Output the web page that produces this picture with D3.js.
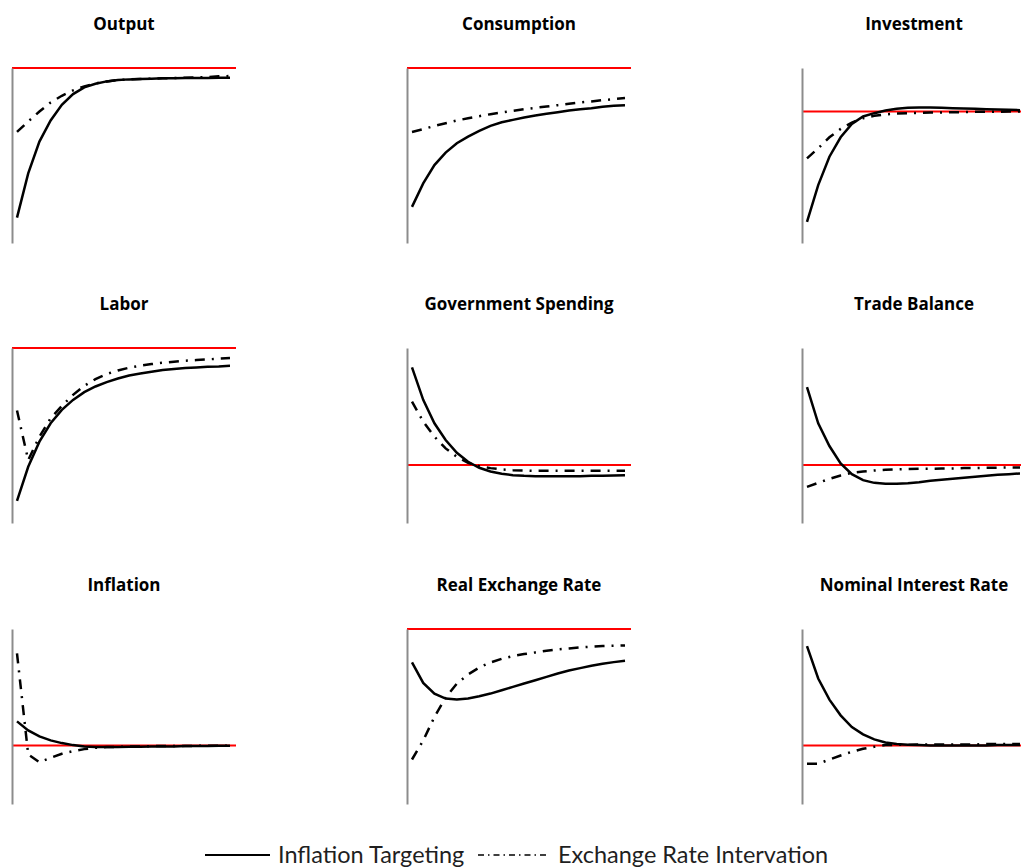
<!DOCTYPE html>
<html>
<head>
<meta charset="utf-8">
<script src="https://cdn.jsdelivr.net/npm/d3@7"></script>
<style>
  body { margin: 0; background: #fff; }
  .title { font-family: "Open Sans", Lato, sans-serif; font-weight: bold; font-size: 17px; fill: #000; }
  .legend { font-family: Lato, "Open Sans", sans-serif; font-size: 23.5px; fill: #1f1f1f; }
</style>
</head>
<body>
<div id="chart"></div>
<script>
var svgWidth = 1021;
var svgHeight = 868;

// periods on the horizontal axis
var periods = d3.range(1, 21);

var titles = ["Output", "Consumption", "Investment",
              "Labor", "Government Spending", "Trade Balance",
              "Inflation", "Real Exchange Rate", "Nominal Interest Rate"];

// vertical extent of each panel [min, max]
var yRanges = [
    [-5.23, 0], [-5.23, 0], [-3.93, 1.30],
    [-5.23, 0], [-1.73, 3.50], [-1.73, 3.50],
    [-1.75, 3.48], [-5.23, 0], [-1.75, 3.48]
];

// Inflation Targeting (solid)
var outputIT = [-4.47, -3.15, -2.20, -1.57, -1.10, -0.78, -0.58, -0.47, -0.40, -0.36, -0.34, -0.33, -0.32, -0.31, -0.31, -0.30, -0.30, -0.30, -0.29, -0.29];
var consIT = [-4.15, -3.45, -2.90, -2.53, -2.25, -2.05, -1.88, -1.73, -1.62, -1.55, -1.48, -1.42, -1.37, -1.32, -1.27, -1.23, -1.20, -1.16, -1.13, -1.11];
var invIT = [-3.30, -2.20, -1.35, -0.77, -0.37, -0.15, -0.05, 0.03, 0.08, 0.11, 0.12, 0.12, 0.11, 0.10, 0.09, 0.08, 0.07, 0.06, 0.05, 0.04];
var laborIT = [-4.57, -3.55, -2.80, -2.25, -1.85, -1.55, -1.32, -1.15, -1.02, -0.91, -0.82, -0.76, -0.71, -0.66, -0.63, -0.60, -0.58, -0.56, -0.55, -0.53];
var govIT = [2.92, 1.95, 1.25, 0.75, 0.37, 0.10, -0.08, -0.19, -0.26, -0.30, -0.32, -0.33, -0.33, -0.33, -0.33, -0.33, -0.32, -0.32, -0.31, -0.30];
var tradeIT = [2.33, 1.25, 0.57, 0.05, -0.27, -0.45, -0.53, -0.56, -0.56, -0.54, -0.51, -0.47, -0.44, -0.41, -0.38, -0.35, -0.32, -0.29, -0.27, -0.25];
var inflIT = [0.72, 0.45, 0.27, 0.15, 0.07, 0.01, -0.03, -0.05, -0.05, -0.05, -0.04, -0.04, -0.03, -0.03, -0.03, -0.02, -0.02, -0.02, -0.01, -0.01];
var rerIT = [-1.00, -1.61, -1.93, -2.08, -2.11, -2.08, -2.01, -1.93, -1.83, -1.73, -1.63, -1.53, -1.43, -1.33, -1.24, -1.17, -1.10, -1.04, -0.99, -0.95];
var rateIT = [2.97, 2.00, 1.37, 0.90, 0.55, 0.33, 0.18, 0.09, 0.04, 0.02, 0.01, 0, 0, 0, 0, 0, 0, 0.01, 0.01, 0.01];

// Exchange Rate Intervation (dash-dot)
var outputER = [-1.91, -1.60, -1.30, -1.03, -0.83, -0.67, -0.55, -0.46, -0.40, -0.36, -0.34, -0.33, -0.32, -0.31, -0.30, -0.29, -0.28, -0.27, -0.25, -0.24];
var consER = [-1.91, -1.83, -1.73, -1.65, -1.57, -1.50, -1.44, -1.38, -1.33, -1.28, -1.23, -1.19, -1.15, -1.11, -1.07, -1.03, -1.00, -0.96, -0.93, -0.90];
var invER = [-1.40, -1.10, -0.77, -0.52, -0.33, -0.20, -0.13, -0.09, -0.06, -0.05, -0.04, -0.03, -0.03, -0.02, -0.02, -0.01, -0.01, -0.01, 0, 0];
var laborER = [-1.87, -3.35, -2.65, -2.10, -1.73, -1.40, -1.13, -0.93, -0.78, -0.67, -0.59, -0.53, -0.48, -0.44, -0.41, -0.38, -0.36, -0.34, -0.32, -0.30];
var govER = [1.90, 1.30, 0.85, 0.50, 0.25, 0.07, -0.03, -0.09, -0.13, -0.15, -0.16, -0.17, -0.17, -0.17, -0.17, -0.17, -0.17, -0.17, -0.17, -0.17];
var tradeER = [-0.65, -0.53, -0.41, -0.31, -0.23, -0.19, -0.16, -0.14, -0.13, -0.12, -0.11, -0.11, -0.10, -0.10, -0.09, -0.09, -0.08, -0.08, -0.07, -0.07];
var inflER = [2.75, -0.27, -0.50, -0.37, -0.25, -0.17, -0.11, -0.07, -0.05, -0.04, -0.03, -0.03, -0.02, -0.02, -0.02, -0.02, -0.01, -0.01, -0.01, -0.01];
var rerER = [-3.90, -3.33, -2.63, -2.05, -1.63, -1.36, -1.15, -1.00, -0.89, -0.81, -0.75, -0.70, -0.65, -0.61, -0.58, -0.55, -0.53, -0.51, -0.50, -0.49];
var rateER = [-0.55, -0.55, -0.42, -0.30, -0.19, -0.10, -0.04, 0.01, 0.02, 0.02, 0.03, 0.03, 0.03, 0.03, 0.03, 0.03, 0.04, 0.04, 0.04, 0.04];

var solidSeries = [outputIT, consIT, invIT, laborIT, govIT, tradeIT, inflIT, rerIT, rateIT];
var dashSeries = [outputER, consER, invER, laborER, govER, tradeER, inflER, rerER, rateER];

var legendLabels = ["Inflation Targeting", "Exchange Rate Intervation"];

// layout
var colX = [12, 407, 802];
var rowY = [68, 348, 629];
var panelWidth = 224;
var panelHeight = 175;
var dashPattern = "10,7,2,7";

var svg = d3.select("#chart")
    .append("svg")
    .attr("width", svgWidth)
    .attr("height", svgHeight);

var xScale = d3.scaleLinear()
    .domain([1, 20])
    .range([5, 218]);

var yScale = d3.scaleLinear()
    .range([panelHeight, 0]);

var line = d3.line()
    .x(function (d, i) { return xScale(periods[i]); })
    .y(function (d) { return yScale(d); });

titles.forEach(function (title, k) {
    var col = k % 3;
    var row = Math.floor(k / 3);
    yScale.domain(yRanges[k]);

    var g = svg.append("g")
        .attr("transform", `translate(${colX[col]}, ${rowY[row]})`);

    g.append("text")
        .attr("class", "title")
        .attr("x", panelWidth / 2)
        .attr("y", -38)
        .attr("text-anchor", "middle")
        .text(title);

    // zero line
    g.append("line")
        .attr("x1", 0)
        .attr("x2", panelWidth)
        .attr("y1", yScale(0))
        .attr("y2", yScale(0))
        .attr("stroke", "#ff0000")
        .attr("stroke-width", 2);

    // left axis, no ticks
    var yAxis = d3.axisLeft(yScale).ticks(0).tickSize(0).tickFormat("");
    var ax = g.append("g").call(yAxis);
    ax.select(".domain")
        .attr("stroke", "#8c8c8c")
        .attr("stroke-width", 2);

    g.append("path")
        .datum(dashSeries[k])
        .attr("fill", "none")
        .attr("stroke", "#000")
        .attr("stroke-width", 2.5)
        .attr("stroke-dasharray", dashPattern)
        .attr("d", line);

    g.append("path")
        .datum(solidSeries[k])
        .attr("fill", "none")
        .attr("stroke", "#000")
        .attr("stroke-width", 2.5)
        .attr("d", line);
});

// legend
var legend = svg.append("g").attr("transform", "translate(0, 855)");

legend.append("line")
    .attr("x1", 205).attr("x2", 270)
    .attr("y1", 0).attr("y2", 0)
    .attr("stroke", "#000")
    .attr("stroke-width", 2);

legend.append("text")
    .attr("class", "legend")
    .attr("x", 278)
    .attr("y", 8)
    .text(legendLabels[0]);

legend.append("line")
    .attr("x1", 478).attr("x2", 548)
    .attr("y1", 0).attr("y2", 0)
    .attr("stroke", "#000")
    .attr("stroke-width", 1.5)
    .attr("stroke-dasharray", "6,4,1.5,4");

legend.append("text")
    .attr("class", "legend")
    .attr("x", 558)
    .attr("y", 8)
    .text(legendLabels[1]);
</script>
</body>
</html>
